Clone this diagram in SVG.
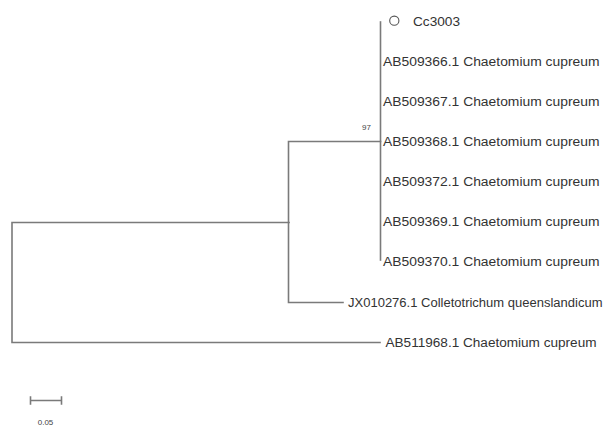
<svg xmlns="http://www.w3.org/2000/svg" width="612" height="427" viewBox="0 0 612 427">
  <style>
    .br { stroke: #7a7a7a; stroke-width: 1.6; fill: none; stroke-linecap: square; }
    .lb { font-family: "Liberation Sans", Arial, sans-serif; font-size: 12.5px; fill: #333333; }
    .bs { font-family: "Liberation Sans", Arial, sans-serif; font-size: 8px; fill: #444444; }
  </style>
  <rect width="612" height="427" fill="#ffffff"/>

  <!-- tree branches -->
  <g id="connectors">
    <!-- root -->
    <path class="br" d="M289 222.5 H12 V342.5 H380"/>
    <!-- inner node -->
    <path class="br" d="M380.5 141.5 H288.5 V302.5 H343"/>
    <!-- Chaetomium cupreum clade -->
    <path class="br" d="M380.5 22 V260"/>
  </g>

  <g id="bootstrap-97">
    <text class="bs" x="371" y="129.5" text-anchor="end">97</text>
  </g>

  <g id="node-Cc3003">
    <circle cx="394.3" cy="20.7" r="4.6" fill="none" stroke="#555555" stroke-width="1.1"/>
    <text class="lb" x="413" y="25.5" textLength="47" lengthAdjust="spacingAndGlyphs">Cc3003</text>
  </g>
  <g id="node-AB509366">
    <text class="lb" x="383" y="66" textLength="216.5" lengthAdjust="spacingAndGlyphs">AB509366.1 Chaetomium cupreum</text>
  </g>
  <g id="node-AB509367">
    <text class="lb" x="383" y="106" textLength="216.5" lengthAdjust="spacingAndGlyphs">AB509367.1 Chaetomium cupreum</text>
  </g>
  <g id="node-AB509368">
    <text class="lb" x="383" y="145.5" textLength="216.5" lengthAdjust="spacingAndGlyphs">AB509368.1 Chaetomium cupreum</text>
  </g>
  <g id="node-AB509372">
    <text class="lb" x="383" y="185.5" textLength="216.5" lengthAdjust="spacingAndGlyphs">AB509372.1 Chaetomium cupreum</text>
  </g>
  <g id="node-AB509369">
    <text class="lb" x="383" y="226" textLength="216.5" lengthAdjust="spacingAndGlyphs">AB509369.1 Chaetomium cupreum</text>
  </g>
  <g id="node-AB509370">
    <text class="lb" x="383" y="266" textLength="216.5" lengthAdjust="spacingAndGlyphs">AB509370.1 Chaetomium cupreum</text>
  </g>
  <g id="node-JX010276">
    <text class="lb" x="348" y="306.5" textLength="254.5" lengthAdjust="spacingAndGlyphs">JX010276.1 Colletotrichum queenslandicum</text>
  </g>
  <g id="node-AB511968">
    <text class="lb" x="385.5" y="346.5" textLength="211" lengthAdjust="spacingAndGlyphs">AB511968.1 Chaetomium cupreum</text>
  </g>

  <!-- scale bar -->
  <g id="scale-bar">
    <path class="br" d="M30.5 400.5 H61.5 M30.5 397 V404 M61.5 397 V404" stroke-width="1.2"/>
    <text class="bs" x="45.5" y="425" text-anchor="middle">0.05</text>
  </g>
</svg>
